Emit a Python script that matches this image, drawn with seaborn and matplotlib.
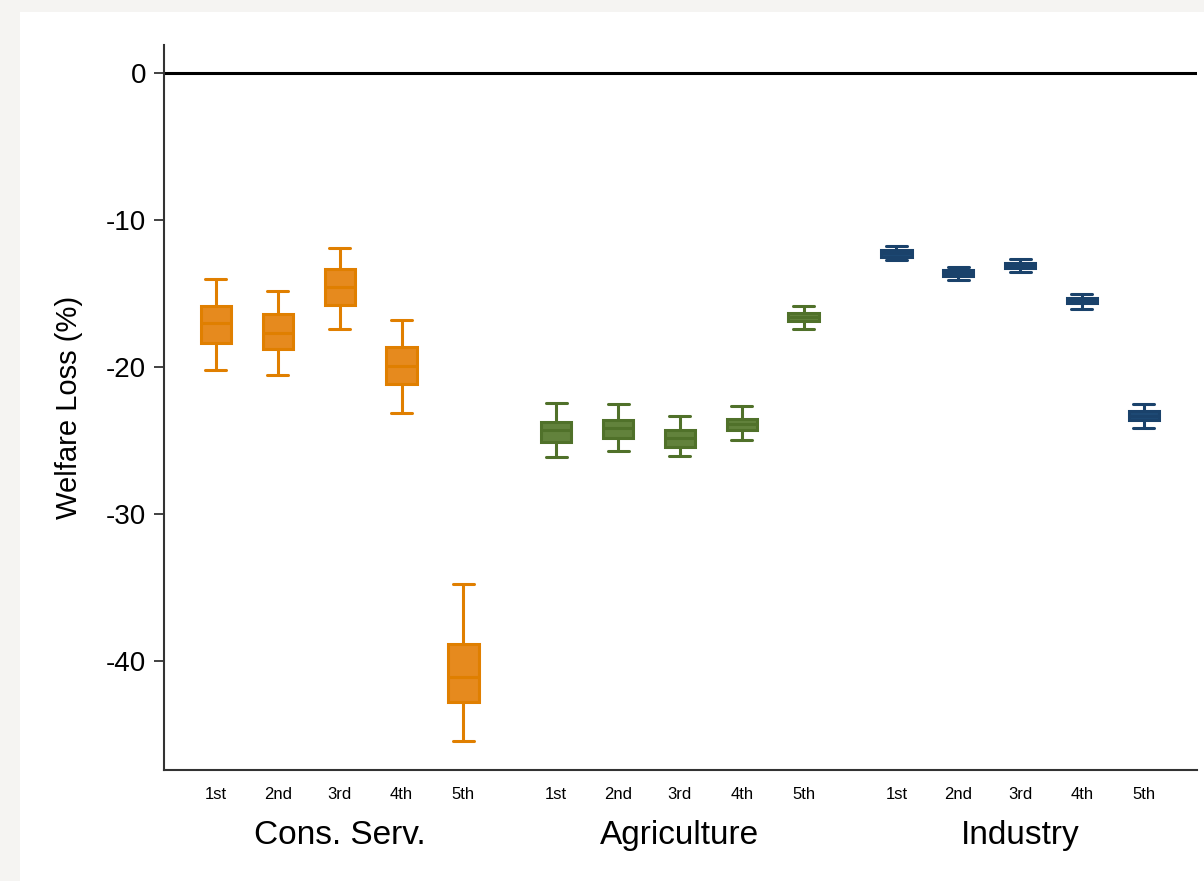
import numpy as np
import pandas as pd
import matplotlib
matplotlib.use("Agg")
import matplotlib.pyplot as plt
import seaborn as sns

# ---- data ----
sectors = ["Cons. Serv.", "Agriculture", "Industry"]
quintiles = ["1st", "2nd", "3rd", "4th", "5th"]

# each box given as [whisker low, q1, median, q3, whisker high]
cons_serv = [
    [-20.2, -18.39, -17.03, -15.85, -14.01],
    [-20.57, -18.78, -17.67, -16.40, -14.80],
    [-17.41, -15.78, -14.58, -13.33, -11.88],
    [-23.13, -21.18, -19.93, -18.62, -16.82],
    [-45.42, -42.79, -41.07, -38.82, -34.79],
]
agriculture = [
    [-26.15, -25.10, -24.29, -23.72, -22.43],
    [-25.71, -24.83, -24.17, -23.61, -22.54],
    [-26.03, -25.42, -24.81, -24.31, -23.33],
    [-24.94, -24.29, -23.90, -23.52, -22.68],
    [-17.39, -16.87, -16.60, -16.35, -15.83],
]
industry = [
    [-12.72, -12.49, -12.25, -12.04, -11.75],
    [-14.06, -13.81, -13.60, -13.40, -13.17],
    [-13.54, -13.27, -13.08, -12.90, -12.65],
    [-16.03, -15.65, -15.48, -15.31, -15.03],
    [-24.13, -23.61, -23.33, -22.99, -22.49],
]
y_ticks = [0, -10, -20, -30, -40]

colors = {"Cons. Serv.": "#E68A1E", "Agriculture": "#62823C", "Industry": "#1E4A75"}
edges = {"Cons. Serv.": "#E07F00", "Agriculture": "#50712A", "Industry": "#1A426B"}

# ---- build long-form frame ----
rows = []
slot_pos = []
group_start = {"Cons. Serv.": 0.0, "Agriculture": 5.5, "Industry": 11.0}
for s, boxes in zip(sectors, [cons_serv, agriculture, industry]):
    for i, (q, vals) in enumerate(zip(quintiles, boxes)):
        pos = group_start[s] + i
        slot_pos.append((pos, q))
        for v in vals:
            rows.append({"sector": s, "quintile": q, "pos": pos, "value": v})
df = pd.DataFrame(rows)

sns.set_style("white")
plt.rcParams["font.family"] = ["Liberation Sans", "DejaVu Sans"]
plt.rcParams["text.color"] = "black"
plt.rcParams["axes.labelcolor"] = "black"
plt.rcParams["xtick.color"] = "black"
plt.rcParams["ytick.color"] = "black"

fig = plt.figure(figsize=(12.04, 8.81), dpi=100, facecolor="#F5F4F2")
bg = plt.Rectangle((20 / 1204, 0), 1 - 20 / 1204, 1 - 12 / 881,
                   transform=fig.transFigure, facecolor="white",
                   edgecolor="none", zorder=-10)
fig.patches.append(bg)
ax = fig.add_axes([164 / 1204, 1 - 770 / 881, (1197 - 164) / 1204, (770 - 45) / 881])
ax.set_facecolor("none")
ax.set_zorder(5)

for s in sectors:
    sub = df[df["sector"] == s]
    sns.boxplot(data=sub, x="pos", y="value", native_scale=True, ax=ax,
                width=0.49, whis=(0, 100), color=colors[s], linecolor=edges[s],
                linewidth=2.2, capwidths=0.34, saturation=1,
                boxprops=dict(facecolor=colors[s]), fliersize=0)

ax.axhline(0, color="black", lw=2.2, zorder=1)

ax.set_xlim(-0.84, 15.86)
ax.set_ylim(-47.41, 1.905)
ax.set_yticks(y_ticks)
ax.set_yticklabels([str(t) for t in y_ticks], fontsize=20, color="black")
ax.set_xticks([p for p, _ in slot_pos])
ax.set_xticklabels([q for _, q in slot_pos], fontsize=12, color="black")
ax.tick_params(axis="x", length=0, pad=12)
ax.tick_params(axis="y", length=7, width=1.3, color="#333333", left=True, pad=6)
ax.set_xlabel("")
ax.set_ylabel("Welfare Loss (%)", fontsize=21, labelpad=16, color="black")

for side in ["top", "right"]:
    ax.spines[side].set_visible(False)
for side in ["left", "bottom"]:
    ax.spines[side].set_color("#333333")
    ax.spines[side].set_linewidth(1.5)

for s in sectors:
    center = group_start[s] + 2
    ax.text(center, -0.09, s, transform=ax.get_xaxis_transform(),
            ha="center", va="center", fontsize=24, color="black")

fig.savefig("out.png", dpi=100, facecolor=fig.get_facecolor())
